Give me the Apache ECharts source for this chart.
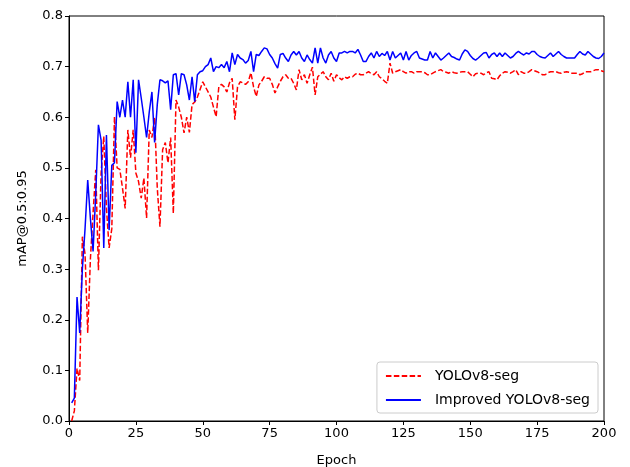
<!DOCTYPE html>
<html>
<head>
<meta charset="utf-8">
<script src="https://cdn.jsdelivr.net/npm/echarts@6/dist/echarts.min.js"></script>
<style>html,body{margin:0;padding:0;background:#fff}#c{width:630px;height:467px}</style>
</head>
<body>
<div id="c"></div>
<script>
const seriesNames = ["YOLOv8-seg", "Improved YOLOv8-seg"];
const xTicks = [0, 25, 50, 75, 100, 125, 150, 175, 200];
const yTicks = [0.0, 0.1, 0.2, 0.3, 0.4, 0.5, 0.6, 0.7, 0.8];

const baseline = [
0.0,0.02,0.104,0.08,0.364,0.33,0.174,0.32,0.411,0.496,
0.298,0.49,0.562,0.42,0.342,0.38,0.601,0.50,0.497,0.46,
0.42,0.575,0.52,0.575,0.49,0.473,0.44,0.48,0.401,0.575,
0.56,0.60,0.46,0.384,0.536,0.55,0.51,0.56,0.41,0.634,
0.62,0.60,0.569,0.60,0.57,0.625,0.63,0.64,0.655,0.67,
0.66,0.65,0.64,0.62,0.601,0.66,0.665,0.66,0.65,0.668,
0.677,0.595,0.66,0.67,0.668,0.665,0.67,0.688,0.66,0.641,
0.664,0.671,0.680,0.677,0.677,0.665,0.648,0.66,0.671,0.680,
0.684,0.677,0.677,0.667,0.654,0.694,0.674,0.684,0.667,0.684,
0.699,0.644,0.68,0.685,0.690,0.680,0.674,0.687,0.671,0.684,
0.678,0.674,0.680,0.677,0.680,0.680,0.685,0.687,0.684,0.684,
0.687,0.690,0.686,0.684,0.690,0.680,0.676,0.671,0.667,0.707,
0.687,0.690,0.692,0.694,0.690,0.687,0.690,0.690,0.687,0.690,
0.690,0.690,0.688,0.684,0.684,0.687,0.690,0.692,0.694,0.690,
0.689,0.687,0.690,0.688,0.687,0.689,0.690,0.690,0.690,0.685,
0.680,0.686,0.687,0.687,0.684,0.688,0.690,0.677,0.676,0.674,
0.682,0.687,0.690,0.689,0.687,0.690,0.694,0.684,0.690,0.687,
0.687,0.690,0.694,0.692,0.690,0.687,0.684,0.684,0.688,0.690,
0.690,0.690,0.688,0.687,0.689,0.690,0.689,0.687,0.687,0.687,
0.684,0.686,0.690,0.690,0.690,0.692,0.694,0.694,0.692,0.690
];

const improved = [
0.036,0.045,0.245,0.174,0.30,0.38,0.476,0.40,0.335,0.45,
0.585,0.555,0.342,0.565,0.377,0.505,0.51,0.631,0.60,0.634,
0.60,0.67,0.60,0.674,0.53,0.674,0.638,0.60,0.56,0.61,
0.65,0.55,0.625,0.674,0.672,0.668,0.672,0.615,0.684,0.686,
0.644,0.686,0.684,0.664,0.634,0.68,0.631,0.684,0.69,0.692,
0.70,0.704,0.717,0.69,0.70,0.698,0.704,0.698,0.71,0.69,
0.727,0.704,0.724,0.717,0.714,0.707,0.712,0.73,0.69,0.724,
0.722,0.73,0.737,0.735,0.724,0.717,0.706,0.697,0.724,0.726,
0.717,0.71,0.723,0.73,0.723,0.73,0.717,0.71,0.723,0.714,
0.707,0.737,0.707,0.737,0.717,0.707,0.723,0.73,0.717,0.71,
0.727,0.727,0.73,0.727,0.73,0.73,0.727,0.734,0.723,0.71,
0.710,0.720,0.727,0.717,0.730,0.720,0.726,0.722,0.730,0.713,
0.730,0.717,0.722,0.727,0.713,0.730,0.713,0.722,0.727,0.730,
0.717,0.715,0.713,0.713,0.730,0.717,0.727,0.720,0.713,0.717,
0.722,0.727,0.720,0.718,0.715,0.713,0.725,0.733,0.730,0.722,
0.716,0.713,0.717,0.722,0.727,0.728,0.717,0.724,0.727,0.720,
0.727,0.720,0.727,0.722,0.717,0.720,0.726,0.730,0.726,0.723,
0.727,0.725,0.730,0.730,0.724,0.720,0.718,0.717,0.722,0.727,
0.720,0.725,0.730,0.724,0.720,0.717,0.717,0.717,0.717,0.724,
0.730,0.725,0.723,0.730,0.725,0.720,0.717,0.716,0.720,0.727
];

const epochs = baseline.map((_, i) => i + 1);
const toPairs = vals => vals.map((v, i) => [epochs[i], v]);

const font = 'DejaVu Sans';
const chart = echarts.init(document.getElementById('c'), null, {renderer: 'canvas'});
chart.setOption({
  backgroundColor: '#fff',
  animation: false,
  textStyle: {fontFamily: font},
  grid: {left: 69, right: 26, top: 16, bottom: 46, show: true, borderColor: '#000', borderWidth: 1,
         backgroundColor: 'transparent', containLabel: false, outerBoundsMode: 'none'},
  xAxis: {
    type: 'value', min: xTicks[0], max: xTicks[xTicks.length - 1], interval: 25,
    name: 'Epoch', nameLocation: 'middle', nameGap: 33,
    nameTextStyle: {fontFamily: font, fontSize: 13, color: '#000'},
    axisLine: {show: true, lineStyle: {color: '#000', width: 1}},
    axisTick: {show: true, length: 4, lineStyle: {color: '#000'}},
    axisLabel: {fontFamily: font, fontSize: 13, color: '#000', margin: 6},
    splitLine: {show: false}
  },
  yAxis: {
    type: 'value', min: yTicks[0], max: yTicks[yTicks.length - 1], interval: 0.1,
    name: 'mAP@0.5:0.95', nameLocation: 'middle', nameGap: 40, nameRotate: 90,
    nameTextStyle: {fontFamily: font, fontSize: 13, color: '#000'},
    axisLine: {show: true, lineStyle: {color: '#000', width: 1}},
    axisTick: {show: true, length: 4, lineStyle: {color: '#000'}},
    axisLabel: {fontFamily: font, fontSize: 13, color: '#000', margin: 6, formatter: v => v.toFixed(1)},
    splitLine: {show: false}
  },
  legend: {
    show: true,
    right: 32, bottom: 54, orient: 'vertical',
    backgroundColor: '#ffffff', borderColor: '#cccccc', borderWidth: 1, borderRadius: 3,
    padding: [7, 8, 6, 8], itemGap: 10, itemWidth: 35, itemHeight: 12,
    itemStyle: {opacity: 0},
    textStyle: {fontFamily: font, fontSize: 14, color: '#000', padding: [0, 0, 0, 9]},
    data: seriesNames
  },
  series: [
    {name: seriesNames[0], type: 'line', data: toPairs(baseline), showSymbol: false, symbol: 'none',
     lineStyle: {color: '#ff0000', width: 1.5, type: [5.5, 2.4]}, itemStyle: {color: '#ff0000'}, z: 2},
    {name: seriesNames[1], type: 'line', data: toPairs(improved), showSymbol: false, symbol: 'none',
     lineStyle: {color: '#0000ff', width: 1.5}, itemStyle: {color: '#0000ff'}, z: 3}
  ]
});
</script>
</body>
</html>
